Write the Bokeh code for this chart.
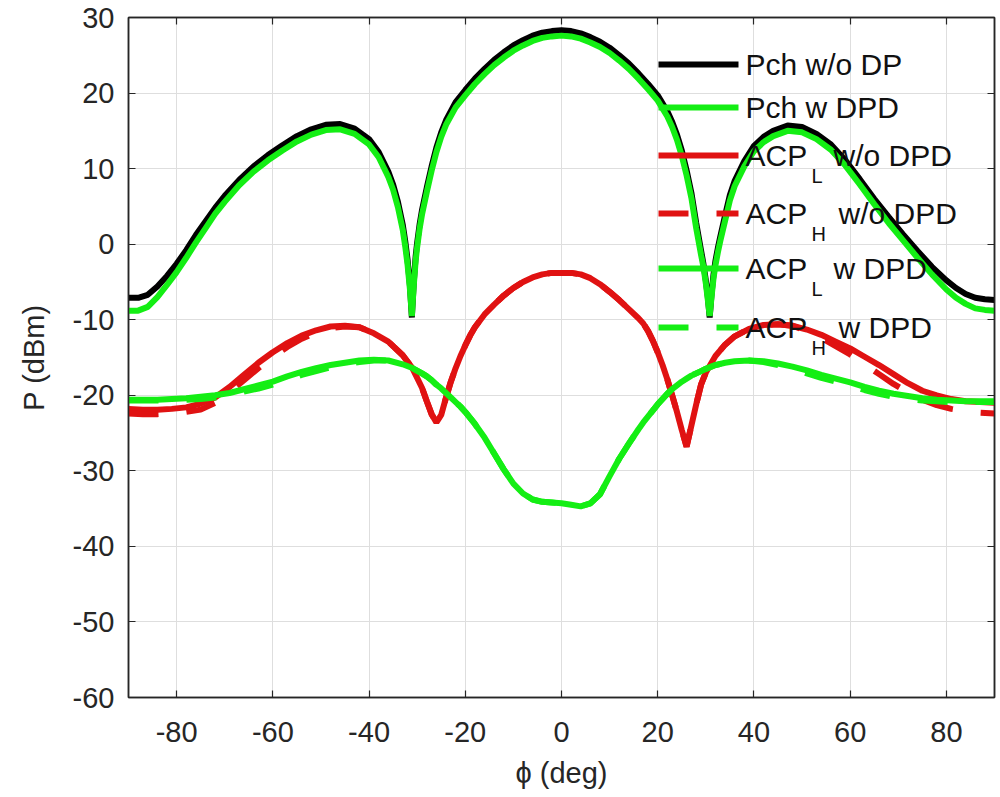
from bokeh.plotting import figure
from bokeh.models import LinearAxis, Label, Arrow, FixedTicker, Range1d, ColumnDataSource
from bokeh.embed import file_html
from bokeh.resources import INLINE

# ---------------- data ----------------
phi_pch = [-90, -88, -86, -84, -82, -80, -78, -76, -74, -72, -70, -67, -64, -61, -58, -55, -52, -49, -46, -43,
           -40, -38, -36, -35, -34, -33, -32.5, -32, -31.5, -31.1, -30.7, -30.3, -30, -29.5, -29, -28, -27, -26,
           -25, -24, -22, -20, -18, -16, -14, -12, -10, -8, -6, -4, -2, 0, 2, 4, 6, 8, 10, 12, 14, 16, 18, 20,
           22, 23, 24, 25, 26, 27, 28, 29, 29.5, 30, 30.4, 30.8, 31.2, 31.6, 32, 32.5, 33, 34, 35, 36, 38, 40,
           42, 44, 47, 50, 53, 56, 59, 62, 65, 68, 71, 74, 77, 80, 82, 84, 86, 88, 90]

pch_wo_dpd = [-7.1, -7.1, -6.7, -5.6, -4.2, -2.6, -0.8, 1.2, 3.0, 4.8, 6.4, 8.5, 10.3, 11.8, 13.1, 14.3, 15.2, 15.8,
              15.9, 15.3, 13.9, 12.2, 9.6, 7.9, 5.6, 2.6, 0.5, -2.0, -5.5, -9.7, -5.0, -1.5, 0.2, 2.6, 4.5, 7.5,
              10.3, 12.8, 14.8, 16.4, 18.8, 20.4, 21.9, 23.2, 24.4, 25.4, 26.3, 27.0, 27.6, 28.0, 28.2, 28.3,
              28.2, 27.9, 27.4, 26.8, 26.0, 25.0, 23.9, 22.6, 21.2, 19.7, 17.6, 16.2, 14.5, 12.4, 9.8, 6.8, 2.8,
              -0.8, -2.6, -4.8, -6.9, -9.7, -6.5, -4.0, -2.2, -0.5, 1.0, 3.8, 6.5, 8.4, 11.0, 13.0, 14.2, 15.0,
              15.7, 15.5, 14.6, 13.2, 11.1, 8.6, 6.0, 3.6, 1.3, -0.9, -3.0, -4.8, -5.8, -6.6, -7.1, -7.3, -7.4]

pch_w_dpd = [-8.8, -8.8, -8.3, -7.0, -5.4, -3.7, -1.8, 0.2, 2.1, 4.0, 5.6, 7.8, 9.6, 11.1, 12.4, 13.6, 14.5, 15.1,
             15.2, 14.6, 13.2, 11.5, 8.9, 7.2, 4.9, 1.9, -0.2, -2.7, -6.0, -9.5, -5.4, -2.1, -0.4, 2.0, 3.9, 6.9,
             9.7, 12.2, 14.2, 15.8, 18.1, 19.7, 21.2, 22.5, 23.7, 24.7, 25.6, 26.3, 26.9, 27.3, 27.5, 27.6,
             27.5, 27.2, 26.7, 26.1, 25.3, 24.3, 23.2, 21.9, 20.5, 19.0, 16.9, 15.5, 13.8, 11.7, 9.1, 6.1, 2.1,
             -1.4, -3.0, -5.2, -7.3, -9.5, -6.9, -4.5, -2.8, -1.1, 0.4, 3.1, 5.8, 7.7, 10.3, 12.3, 13.5, 14.3,
             15.0, 14.8, 13.9, 12.5, 10.4, 7.9, 5.3, 2.8, 0.5, -1.8, -4.0, -6.0, -7.1, -7.9, -8.5, -8.7, -8.8]

phi_acp = [-90, -87, -84, -81, -78, -75, -72, -69, -66, -63, -60, -57, -54, -51, -48, -45, -42, -39, -36, -33,
           -31, -29, -28, -27, -26, -25, -24, -23, -22, -21, -20, -19, -18, -16, -14, -12, -10, -8, -6, -4, -2,
           0, 2, 4, 6, 8, 10, 12, 14, 16, 17, 18, 19, 20, 21, 22, 23, 24, 25, 26, 27, 28, 29, 30, 32, 34, 36,
           39, 42, 45, 48, 51, 54, 57, 60, 63, 66, 69, 72, 75, 78, 81, 84, 87, 90]

acpl_wo_dpd = [-21.8, -21.9, -21.9, -21.8, -21.6, -21.1, -20.3, -18.9, -17.3, -15.7, -14.3, -13.1, -12.1, -11.4,
               -10.9, -10.8, -11.0, -11.8, -12.9, -14.7, -16.4, -19.0, -20.8, -22.5, -23.6, -22.6, -20.3, -18.2,
               -16.4, -14.8, -13.4, -12.1, -11.0, -9.3, -8.0, -6.8, -5.8, -5.0, -4.4, -4.0, -3.8, -3.8, -3.8,
               -4.0, -4.5, -5.3, -6.3, -7.4, -8.6, -9.8, -10.5, -11.5, -12.8, -14.3, -16.0, -17.9, -20.0, -22.2,
               -24.6, -26.8, -24.0, -21.2, -18.6, -17.0, -14.8, -13.3, -12.2, -11.2, -10.7, -10.6, -10.8, -11.3,
               -12.0, -12.9, -13.8, -14.9, -16.0, -17.2, -18.4, -19.4, -20.0, -20.5, -20.8, -20.9, -21.0]

acph_wo_dpd = [-22.4, -22.5, -22.5, -22.4, -22.2, -21.9, -21.0, -19.6, -18.0, -16.4, -14.9, -13.6, -12.5, -11.7,
               -11.1, -10.9, -11.0, -11.8, -12.9, -14.7, -16.4, -19.0, -20.8, -22.5, -23.6, -22.6, -20.3, -18.2,
               -16.4, -14.8, -13.4, -12.1, -11.0, -9.3, -8.0, -6.8, -5.8, -5.0, -4.4, -4.0, -3.8, -3.8, -3.8,
               -4.0, -4.5, -5.3, -6.3, -7.4, -8.6, -9.8, -10.5, -11.5, -12.8, -14.3, -16.0, -17.9, -20.0, -22.2,
               -24.6, -26.8, -24.0, -21.2, -18.6, -17.0, -14.8, -13.3, -12.2, -11.2, -10.7, -10.6, -10.8, -11.5,
               -12.4, -13.5, -14.6, -15.9, -17.2, -18.5, -19.6, -20.6, -21.3, -21.8, -22.1, -22.3, -22.4]

acpl_w_dpd = [-20.6, -20.6, -20.6, -20.5, -20.4, -20.2, -20.0, -19.7, -19.2, -18.7, -18.2, -17.5, -16.9, -16.4,
              -16.0, -15.7, -15.4, -15.3, -15.4, -15.9, -16.4, -17.1, -17.5, -18.0, -18.6, -19.1, -19.7, -20.3,
              -20.9, -21.5, -22.2, -23.0, -23.8, -25.6, -27.7, -29.8, -31.7, -33.0, -33.8, -34.1, -34.2, -34.3,
              -34.5, -34.7, -34.3, -33.1, -30.7, -28.4, -26.4, -24.5, -23.6, -22.8, -22.0, -21.2, -20.5, -19.8,
              -19.2, -18.7, -18.2, -17.8, -17.4, -17.1, -16.8, -16.5, -16.0, -15.7, -15.5, -15.4, -15.5, -15.8,
              -16.2, -16.7, -17.3, -17.8, -18.3, -18.9, -19.4, -19.8, -20.1, -20.4, -20.6, -20.7, -20.8, -20.8,
              -20.8]

acph_w_dpd = [-20.7, -20.7, -20.7, -20.7, -20.6, -20.5, -20.3, -20.0, -19.5, -19.1, -18.6, -18.0, -17.3, -16.8,
              -16.3, -15.9, -15.6, -15.4, -15.4, -15.9, -16.4, -17.1, -17.5, -18.0, -18.6, -19.1, -19.7, -20.3,
              -20.9, -21.5, -22.2, -23.0, -23.8, -25.6, -27.7, -29.8, -31.7, -33.0, -33.8, -34.1, -34.2, -34.3,
              -34.5, -34.7, -34.3, -33.1, -30.7, -28.4, -26.4, -24.5, -23.6, -22.8, -22.0, -21.2, -20.5, -19.8,
              -19.2, -18.7, -18.2, -17.8, -17.4, -17.1, -16.8, -16.5, -16.0, -15.7, -15.5, -15.4, -15.6, -16.0,
              -16.5, -17.1, -17.7, -18.2, -18.7, -19.3, -19.8, -20.2, -20.5, -20.7, -20.8, -20.9, -20.9, -20.9,
              -20.9]

x_ticks = [-80, -60, -40, -20, 0, 20, 40, 60, 80]
x_tick_labels = ["-80", "-60", "-40", "-20", "0", "20", "40", "60", "80"]
y_ticks = [-60, -50, -40, -30, -20, -10, 0, 10, 20, 30]
y_tick_labels = ["-60", "-50", "-40", "-30", "-20", "-10", "0", "10", "20", "30"]

legend_rows = [
    ("Pch w/o DP", "", "", "black", "solid"),
    ("Pch w DPD", "", "", "green", "solid"),
    ("ACP", "L", "w/o DPD", "red", "solid"),
    ("ACP", "H", "w/o DPD", "red", "dashed"),
    ("ACP", "L", "w DPD", "green", "solid"),
    ("ACP", "H", "w DPD", "green", "dashed"),
]

# ---------------- style ----------------
BLACK = "#000000"
GREEN = "#14ee14"
RED = "#e01212"
AXC = "#262626"
FONT = "Liberation Sans"
DASH = "30 28"
LW = 6

p = figure(width=1000, height=797, x_range=Range1d(-90, 90), y_range=Range1d(-60, 30),
           output_backend="svg", toolbar_location=None,
           min_border_left=128, min_border_right=6, min_border_top=17, min_border_bottom=100)
p.background_fill_color = "white"
p.border_fill_color = "white"
p.outline_line_color = AXC
p.outline_line_width = 1.5

src_p = ColumnDataSource(dict(x=phi_pch, a=pch_wo_dpd, b=pch_w_dpd))
src_a = ColumnDataSource(dict(x=phi_acp, l1=acpl_wo_dpd, h1=acph_wo_dpd, l2=acpl_w_dpd, h2=acph_w_dpd))

p.line("x", "a", source=src_p, line_color=BLACK, line_width=LW)
p.line("x", "b", source=src_p, line_color=GREEN, line_width=LW)
p.line("x", "l1", source=src_a, line_color=RED, line_width=LW)
p.line("x", "h1", source=src_a, line_color=RED, line_width=LW, line_dash=DASH)
p.line("x", "l2", source=src_a, line_color=GREEN, line_width=LW)
p.line("x", "h2", source=src_a, line_color=GREEN, line_width=LW, line_dash=DASH)

# axes
for ax in (p.xaxis[0], p.yaxis[0]):
    ax.major_tick_in = 7
    ax.major_tick_out = 0
    ax.minor_tick_in = 0
    ax.minor_tick_out = 0
    ax.axis_line_color = AXC
    ax.axis_line_width = 1.5
    ax.major_tick_line_color = AXC
    ax.major_tick_line_width = 1.2
    ax.major_label_text_font = FONT
    ax.major_label_text_font_size = "29px"
    ax.major_label_text_color = AXC
    ax.axis_label_text_font = FONT
    ax.axis_label_text_font_size = "29px"
    ax.axis_label_text_font_style = "normal"
    ax.axis_label_text_color = AXC

p.xaxis.ticker = FixedTicker(ticks=x_ticks)
p.yaxis.ticker = FixedTicker(ticks=y_ticks)
p.xaxis.major_label_overrides = {t: s for t, s in zip(x_ticks, x_tick_labels)}
p.yaxis.major_label_overrides = {t: s for t, s in zip(y_ticks, y_tick_labels)}
p.xaxis.axis_label = "\u03d5 (deg)"
p.yaxis.axis_label = "P (dBm)"
p.xaxis.major_label_standoff = 24
p.yaxis.major_label_standoff = 14
p.xaxis.axis_label_standoff = 12
p.yaxis.axis_label_standoff = 20

# tick marks on the top and right edges (box on), without labels
for loc, ticks in (("above", x_ticks), ("right", y_ticks)):
    ax = LinearAxis(ticker=FixedTicker(ticks=ticks), major_tick_in=7, major_tick_out=0,
                    minor_tick_in=0, minor_tick_out=0,
                    major_label_overrides={t: "" for t in ticks},
                    major_label_standoff=0, axis_line_color=AXC, axis_line_width=1.5,
                    major_tick_line_color=AXC, major_tick_line_width=1.2)
    p.add_layout(ax, loc)

p.grid.grid_line_color = "#dedede"
p.grid.grid_line_width = 1

# legend (manual, box off, like MATLAB)
row_y = [633, 590, 542, 484, 429, 370]
for (main, sub, rest, col, style), y in zip(legend_rows, row_y):
    c = {"black": BLACK, "green": GREEN, "red": RED}[col]
    p.add_layout(Arrow(x_start=530, y_start=y, x_end=610, y_end=y, start_units="screen",
                       end_units="screen", end=None, line_color=c, line_width=LW,
                       line_dash=(DASH if style == "dashed" else "solid")))
    p.add_layout(Label(x=617, y=y, x_units="screen", y_units="screen", text=main,
                       text_font=FONT, text_font_size="30px", text_baseline="middle",
                       text_color="#111111"))
    if sub:
        p.add_layout(Label(x=683, y=y - 20, x_units="screen", y_units="screen", text=sub,
                           text_font=FONT, text_font_size="20px", text_baseline="middle",
                           text_color="#111111"))
        p.add_layout(Label(x=(705 if sub == "L" else 710), y=y, x_units="screen", y_units="screen",
                           text=rest, text_font=FONT, text_font_size="30px",
                           text_baseline="middle", text_color="#111111"))

open("out.html", "w").write(file_html(p, INLINE))
